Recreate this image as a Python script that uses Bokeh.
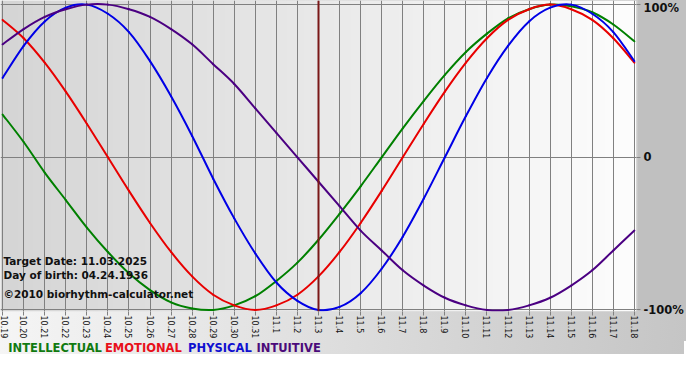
import math
import numpy as np
from bokeh.plotting import figure
from bokeh.layouts import column
from bokeh.models import Range1d, FixedTicker, Span, Label
from bokeh.core.properties import value
from bokeh.embed import file_html
from bokeh.resources import INLINE

# ---------------- data ----------------
dates = ["10.19", "10.20", "10.21", "10.22", "10.23", "10.24", "10.25", "10.26",
         "10.27", "10.28", "10.29", "10.30", "10.31", "11.1", "11.2", "11.3",
         "11.4", "11.5", "11.6", "11.7", "11.8", "11.9", "11.10", "11.11",
         "11.12", "11.13", "11.14", "11.15", "11.16", "11.17", "11.18"]
intellectual = [0.28, 0.10, -0.10, -0.28, -0.46, -0.62, -0.76, -0.87, -0.95, -0.99,
                -1.00, -0.97, -0.91, -0.81, -0.69, -0.54, -0.37, -0.19, 0.00, 0.19,
                0.37, 0.54, 0.69, 0.81, 0.91, 0.97, 1.00, 0.99, 0.95, 0.87, 0.76]
emotional = [0.90, 0.78, 0.62, 0.43, 0.22, 0.00, -0.22, -0.43, -0.62, -0.78,
             -0.90, -0.97, -1.00, -0.97, -0.90, -0.78, -0.62, -0.43, -0.22, 0.00,
             0.22, 0.43, 0.62, 0.78, 0.90, 0.97, 1.00, 0.97, 0.90, 0.78, 0.62]
physical = [0.52, 0.73, 0.89, 0.98, 1.00, 0.94, 0.82, 0.63, 0.40, 0.14,
            -0.14, -0.40, -0.63, -0.82, -0.94, -1.00, -0.98, -0.89, -0.73, -0.52,
            -0.27, 0.00, 0.27, 0.52, 0.73, 0.89, 0.98, 1.00, 0.94, 0.82, 0.63]
intuitive = [0.74, 0.84, 0.92, 0.97, 1.00, 1.00, 0.97, 0.92, 0.84, 0.74,
             0.61, 0.48, 0.32, 0.16, 0.00, -0.16, -0.32, -0.48, -0.61, -0.74,
             -0.84, -0.92, -0.97, -1.00, -1.00, -0.97, -0.92, -0.84, -0.74, -0.61, -0.48]
target_date = "11.3"
info_lines = ["Target Date: 11.03.2025", "Day of birth: 04.24.1936",
              "\u00a92010 biorhythm-calculator.net"]
series_names = ["INTELLECTUAL", "EMOTIONAL", "PHYSICAL", "INTUITIVE"]
y_ticks = [-1, 0, 1]
y_tick_labels = ["-100%", "0", "100%"]

# ---------------- style ----------------
colors = ["#008000", "#e80000", "#0000e6", "#4b0082"]
legend_colors = ["#107a10", "#e8101a", "#1010d0", "#4b0a7a"]
FONT = "DejaVu Sans"
FRAME_W, FRAME_H = 636, 311
RIGHT, BOTTOM = 48, 30
LEG_H = 13
OUTER_BG = "linear-gradient(to right, #f5f5f5, #c5c5c5)"
n = len(dates)
xs = list(range(n))

p = figure(frame_width=FRAME_W, frame_height=FRAME_H, output_backend="svg",
           toolbar_location=None,
           x_range=Range1d(-0.1, n - 1 + 0.1), y_range=Range1d(-1.01, 1.027),
           min_border_left=0, min_border_right=RIGHT, min_border_top=0,
           min_border_bottom=BOTTOM, y_axis_location="right")
p.outline_line_color = None
p.border_fill_color = None
p.background_fill_color = None
p.styles = {"background": "linear-gradient(#c0c0c0, #c0c0c0) right top / %dpx %dpx no-repeat, %s"
            % (RIGHT, FRAME_H, OUTER_BG)}

# plot-area horizontal gradient (grey -> white)
NG = 256
g = np.linspace(213, 253, NG).astype(np.uint8)
img = np.zeros((1, NG), dtype=np.uint32)
view = img.view(dtype=np.uint8).reshape((1, NG, 4))
view[..., 0] = g
view[..., 1] = g
view[..., 2] = g
view[..., 3] = 255
p.image_rgba(image=[img], x=-0.1, y=-1.01, dw=n - 1 + 0.2, dh=2.037, level="image")

# axes
p.xaxis.ticker = FixedTicker(ticks=xs)
p.xaxis.major_label_overrides = {i: d for i, d in enumerate(dates)}
p.xaxis.major_label_orientation = -math.pi / 2
p.xaxis.axis_line_color = None
p.xaxis.major_tick_line_color = "#808080"
p.xaxis.major_tick_in = 0
p.xaxis.major_tick_out = 4
p.xaxis.minor_tick_line_color = None
p.xaxis.major_label_text_font = FONT
p.xaxis.major_label_text_font_size = "8px"
p.xaxis.major_label_text_color = "#111111"
p.xaxis.major_label_standoff = 0

p.yaxis.ticker = FixedTicker(ticks=y_ticks)
p.yaxis.major_label_overrides = {t: s for t, s in zip(y_ticks, y_tick_labels)}
p.yaxis.axis_line_color = None
p.yaxis.major_tick_line_color = "#808080"
p.yaxis.major_tick_in = 0
p.yaxis.major_tick_out = 4
p.yaxis.minor_tick_line_color = None
p.yaxis.major_label_text_font = FONT
p.yaxis.major_label_text_font_style = "bold"
p.yaxis.major_label_text_font_size = "11.5px"
p.yaxis.major_label_text_color = "#111111"
p.yaxis.major_label_standoff = 3

p.xgrid.ticker = FixedTicker(ticks=xs)
p.ygrid.ticker = FixedTicker(ticks=y_ticks)
for gr in (p.xgrid, p.ygrid):
    gr.grid_line_color = "#808080"
    gr.grid_line_width = 1
    gr.grid_line_alpha = 1.0

# target-date marker
p.add_layout(Span(location=dates.index(target_date), dimension="height",
                  line_color="#7a1818", line_width=2))


# curves: smooth (Catmull-Rom -> cubic Bezier) through the daily values
def bezier_parts(xv, yv):
    m = len(xv)
    out = {k: [] for k in ("x0", "y0", "x1", "y1", "cx0", "cy0", "cx1", "cy1")}
    for i in range(m - 1):
        a, b = max(i - 1, 0), min(i + 2, m - 1)
        out["x0"].append(xv[i]); out["y0"].append(yv[i])
        out["x1"].append(xv[i + 1]); out["y1"].append(yv[i + 1])
        out["cx0"].append(xv[i] + (xv[i + 1] - xv[a]) / 6.0)
        out["cy0"].append(yv[i] + (yv[i + 1] - yv[a]) / 6.0)
        out["cx1"].append(xv[i + 1] - (xv[b] - xv[i]) / 6.0)
        out["cy1"].append(yv[i + 1] - (yv[b] - yv[i]) / 6.0)
    return out


for vals, col in zip([intellectual, emotional, physical, intuitive], colors):
    p.bezier(**bezier_parts(xs, vals), line_color=col, line_width=2, line_cap="round")

# info texts
info_y = [-0.676, -0.774, -0.898]
for txt, yy in zip(info_lines, info_y):
    p.add_layout(Label(x=0.04, y=yy, text=txt, text_font=FONT, text_font_style="bold",
                       text_font_size="10.5px", text_color="#111111",
                       text_baseline="middle", text_align="left"))

# legend row (frame aligned with the chart frame)
leg = figure(frame_width=FRAME_W, frame_height=LEG_H, output_backend="svg",
             toolbar_location=None,
             x_range=Range1d(0, FRAME_W), y_range=Range1d(0, LEG_H),
             min_border_left=0, min_border_right=RIGHT, min_border_top=0,
             min_border_bottom=0, x_axis_type=None, y_axis_type=None)
leg.outline_line_color = None
leg.border_fill_color = None
leg.background_fill_color = None
leg.grid.visible = False
leg.styles = {"background": OUTER_BG}
legend_x = [7.8, 104.5, 187.6, 256.0]
leg.text(x=legend_x, y=[LEG_H / 2.0] * len(series_names), text=series_names,
         text_color=legend_colors, text_font=value(FONT), text_font_style="bold",
         text_font_size="11.5px", text_baseline="middle", text_align="left")

layout = column(p, leg, spacing=0)

with open("out.html", "w", encoding="utf-8") as f:
    f.write(file_html(layout, INLINE))
